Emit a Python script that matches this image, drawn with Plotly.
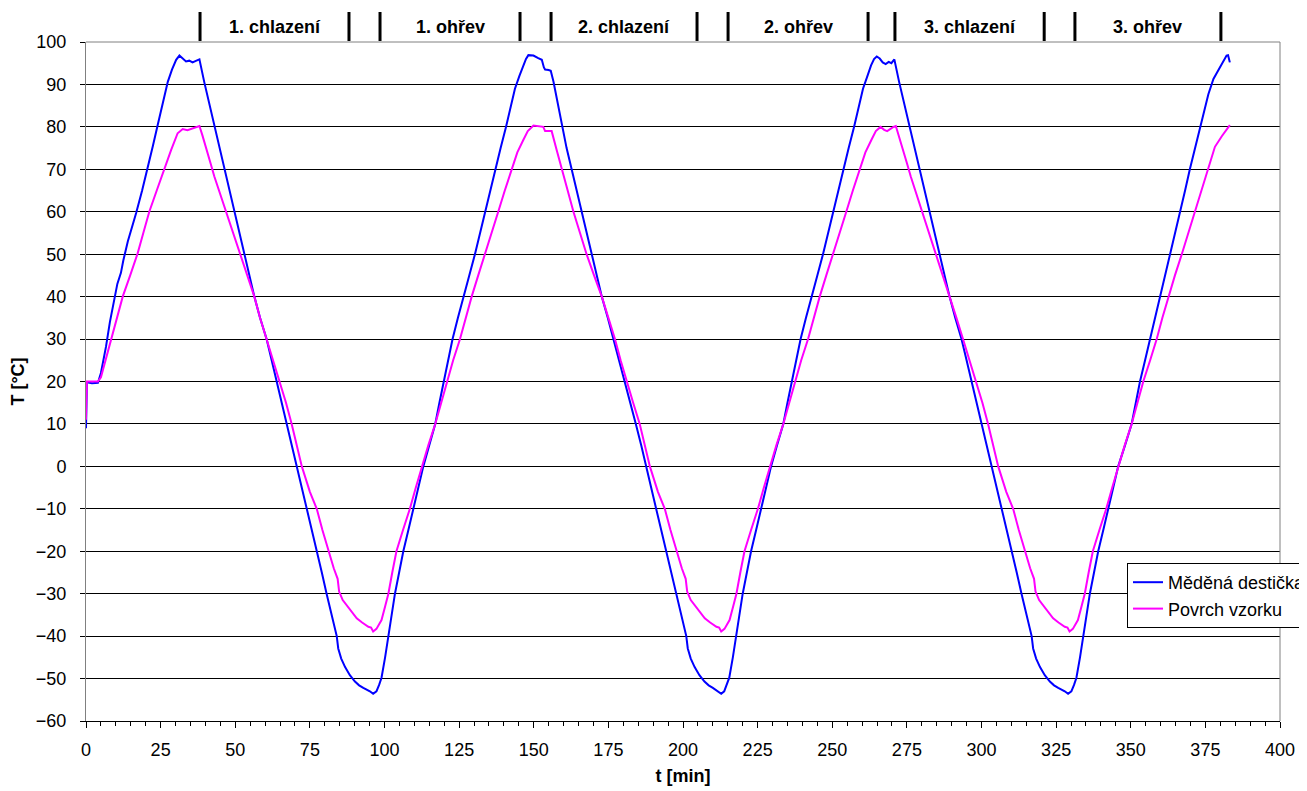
import plotly.graph_objects as go

# ---- data ----
blue_t = [0, 0.3, 2, 4, 5, 6.7, 8, 9.5, 10.5, 11.7, 12.5, 14, 15.5, 16.8, 18.8, 20.7, 22.4, 24, 25.7, 27.4,
          28.8, 30.2, 31.3, 32.4, 33.5, 34.6, 35.7, 37, 38, 39.6, 41.3, 43, 44.6, 46.3, 48, 49.7, 51.4, 53,
          54.7, 56.4, 58.3, 60.5, 62.2, 63.9, 65.5, 67.2, 68.9, 70.6, 72.2, 73.9, 75.6, 77.3, 79, 80.6, 82.3,
          84, 84.5, 85.5, 86.8, 88.4, 90.1, 91.5, 92.9, 95.1, 96.2, 97.3, 98.2, 99, 100.2, 101.3, 102.4, 103.5,
          104.9, 106.3, 108, 109.6, 111.3, 113, 115, 117, 118.4, 119.9, 121.4, 122.8, 124.6, 126.4, 128.4,
          130.3, 132, 133.7, 135.3, 137, 138.9, 140.7, 142.3, 143.7, 145.2, 146.5, 147.4, 148.2, 149.9, 151.5,
          152.7, 153.4, 153.8, 155, 155.7, 156.6, 158, 159.4, 161, 162.7, 164.4, 166.1, 167.7, 169.4, 171.1,
          172.8, 174.8, 176.7, 178.6, 180.6, 182.5, 184.2, 186, 187.6, 189.3, 191, 192.7, 194.4, 196.1, 197.7,
          199.4, 201.1, 201.6, 202.6, 203.9, 205.5, 207.2, 208.6, 210, 211.8, 212.8, 213.8, 214.7, 215.5,
          216.7, 217.8, 218.9, 220, 221.4, 222.8, 224.5, 226.1, 227.8, 229.5, 231.5, 233.6, 235, 236.5, 238,
          239.4, 241.2, 243, 245, 246.9, 248.6, 250.3, 251.9, 253.6, 255.5, 257.3, 258.9, 260.3, 261.8, 263,
          264, 264.9, 265.9, 266.9, 267.9, 268.9, 269.8, 270.8, 272.4, 274.1, 275.8, 277.4, 279.1, 280.8,
          282.5, 284.2, 285.8, 287.5, 289.3, 291.2, 293.3, 295, 296.7, 298.3, 300, 301.7, 303.4, 305, 306.7,
          308.4, 310.1, 311.8, 313.4, 315.1, 316.8, 317.3, 318.3, 319.6, 321.2, 322.9, 324.3, 325.7, 327.9,
          329, 330.1, 331, 331.8, 333, 334.1, 335.2, 336.3, 337.7, 339.1, 340.8, 342.4, 344.1, 345.8, 348.1,
          350.3, 351.7, 353.1, 354.8, 356.5, 358.2, 359.8, 361.5, 363.2, 364.9, 366.5, 368.2, 369.8, 371.5,
          373.2, 374.6, 376, 377.7, 379.9, 381, 382.1, 382.6, 383.2]
blue_T = [9, 19.8, 19.6, 19.7, 22, 28.2, 34, 40, 43, 45.6, 48.5, 53, 56.5, 59.7, 65, 70.2, 75.5, 80.4, 85.5, 90.6,
          93.5, 95.8, 96.8, 96, 95.4, 95.6, 95.2, 95.6, 95.9, 90.6, 85.5, 80.4, 75.3, 70.2, 65, 60, 55, 50.2,
          45, 40, 35, 30, 25, 20, 15, 10, 5, 0, -5, -10, -15, -20, -25, -30, -35,
          -40, -42.9, -45.3, -47.3, -49.2, -50.7, -51.6, -52.2, -53, -53.6, -53, -51.5, -49.8, -45, -40, -35, -30,
          -25, -20, -15, -10, -5, 0, 5, 10, 15, 20, 25, 30, 35, 40, 45,
          50, 55, 60, 65, 70, 75, 80, 85, 89, 92, 94.5, 96, 96.9, 96.8, 96.2,
          95.8, 94, 93.5, 93.4, 93.2, 90.7, 85.5, 80, 75, 70, 65, 60, 55, 50, 45,
          40, 35, 30, 25, 20, 15, 10, 5, 0, -5, -10, -15, -20, -25, -30,
          -35, -40, -42.9, -45.3, -47.3, -49.2, -50.7, -51.6, -52.2, -53, -53.6, -53, -51.5, -49.8,
          -45, -40, -35, -30, -25, -20, -15, -10, -5, 0, 5, 10, 15, 20, 25,
          30, 35, 40, 45, 50, 55, 60, 65, 70, 75, 80, 85, 89, 92, 94.5,
          96, 96.6, 96.1, 95.2, 94.8, 95.3, 95, 95.9, 90.6, 85.5, 80.4, 75.3, 70.2, 65,
          60, 55, 50.2, 45, 40, 35, 30, 25, 20, 15, 10, 5, 0, -5, -10,
          -15, -20, -25, -30, -35, -40, -42.9, -45.3, -47.3, -49.2, -50.7, -51.6, -52.2, -53,
          -53.6, -53, -51.5, -49.8, -45, -40, -35, -30, -25, -20, -15, -10, -5, 0, 5,
          10, 15, 20, 25, 30, 35, 40, 45, 50, 55, 60, 65, 70, 75,
          80, 84, 87.7, 91.3, 94, 95.5, 96.8, 96.9, 95.2]

pink_t = [0, 0.3, 2, 4, 5, 6.5, 8.4, 10.3, 12.3, 14.8, 17.3, 19.2, 21.2, 23.7, 26.2, 28.5, 30.7, 32.4, 34, 35.5,
          36.6, 38, 39, 40.2, 41.7, 43, 45, 46.9, 49.2, 51.4, 53.9, 56.4, 58.3, 60.5, 62.7, 65, 67, 68.9, 70.6,
          72.3, 75, 77.3, 79.2, 81.2, 83, 84.3, 84.8, 86, 87.3, 89, 90.7, 92.5, 94.6, 95.5, 96.2, 97.3, 98.2,
          99, 100.2, 101.3, 102.6, 104, 106.2, 108.5, 110.5, 112.5, 114.7, 117, 119, 120.8, 123, 125.3, 127.2,
          129.2, 131.4, 133.7, 135.9, 138.1, 140.3, 142.6, 144.5, 146.5, 148, 149.9, 151.5, 153.2, 153.8, 156,
          157.7, 159.4, 161.3, 163.3, 165.5, 167.7, 170.2, 172.8, 175, 177.2, 179.1, 181.1, 183.3, 185.5,
          187.2, 188.9, 191.6, 193.9, 195.8, 197.8, 199.6, 200.9, 201.4, 202.6, 203.9, 205.6, 207.3, 209.1,
          211.2, 212.1, 212.8, 213.9, 214.8, 215.6, 216.8, 217.9, 219.2, 220.6, 222.8, 225.1, 227.1, 229.1,
          231.3, 233.6, 235.6, 237.4, 239.6, 241.9, 243.8, 245.8, 248, 250.3, 252.5, 254.7, 256.9, 259.2,
          261.1, 263.1, 264.6, 266.2, 267.4, 268.4, 269.5, 270.5, 271.3, 272.3, 273.5, 275, 276.3, 278.3,
          280.2, 282.5, 284.7, 287.2, 289.4, 291.6, 293.8, 296, 298.3, 300.3, 302.2, 303.9, 305.6, 308.3,
          310.6, 312.5, 314.5, 316.3, 317.6, 318.1, 319.3, 320.6, 322.3, 324, 325.8, 327.9, 328.8, 329.5,
          330.6, 331.5, 332.3, 333.5, 334.6, 335.9, 337.3, 339.5, 341.8, 343.8, 345.8, 348, 350.3, 352.3,
          354.2, 356.5, 358.7, 360.6, 362.6, 364.8, 367.1, 369.3, 371.5, 373.8, 376, 378.2, 380.5, 383.2]
pink_T = [11, 20, 20, 20, 21, 25, 29.8, 35, 40, 45, 50.2, 55, 60, 65, 70.2, 74.5, 78.5, 79.5, 79.2, 79.6,
          80, 80.2, 78, 75.3, 71.5, 68.3, 64, 60, 55, 50.2, 45, 40, 35, 30, 25, 20, 15, 10, 5,
          0, -6, -10, -15, -20, -24, -26.5, -29.5, -31.5, -32.7, -34.5, -35.8, -36.8, -37.8, -38, -38.9, -38.3, -37.3,
          -36.2, -33, -30, -25, -20, -15, -10, -5, 0, 5, 10, 15, 20, 25, 30, 35,
          40, 45, 50, 55, 60, 65, 70, 74, 76.9, 79, 80.3, 80.2, 80, 79, 79,
          74.5, 70, 65, 60, 55, 50, 45, 40, 35, 30, 25, 20, 15, 10,
          5, 0, -6, -10, -15, -20, -24, -26.5, -29.5, -31.5, -32.7, -34.5, -35.8, -36.8,
          -37.8, -38, -38.9, -38.3, -37.3, -36.2, -33, -30, -25, -20, -15, -10, -5, 0,
          5, 10, 15, 20, 25, 30, 35, 40, 45, 50, 55, 60, 65, 70,
          74, 76.9, 79, 80, 79.3, 79, 79.6, 80, 80.2, 78, 75.3, 71.5, 68.3, 64,
          60, 55, 50.2, 45, 40, 35, 30, 25, 20, 15, 10, 5, 0, -6,
          -10, -15, -20, -24, -26.5, -29.5, -31.5, -32.7, -34.5, -35.8, -36.8, -37.8, -38, -38.9,
          -38.3, -37.3, -36.2, -33, -30, -25, -20, -15, -10, -5, 0, 5, 10, 15,
          20, 25, 30, 35, 40, 45, 50, 55, 60, 65, 70, 75.3, 77.8, 80.4]

# test phases: label, start [min], end [min]
phase_labels = ["1. chlazení", "1. ohřev", "2. chlazení", "2. ohřev", "3. chlazení", "3. ohřev"]
phase_start = [38.2, 98.5, 155.8, 215.1, 271.0, 331.3]
phase_end = [88.1, 145.4, 204.7, 262.0, 321.0, 380.2]

series_names = ["Měděná destička", "Povrch vzorku"]

FONT = "Liberation Sans, Arial, sans-serif"
FS = 18

# the page body adds an 8px offset, so the figure is 8px smaller than the window
W, H = 1299, 783
ML, MR, MT, MB = 78, 27, 34, 70
PW, PH = W - ML - MR, H - MT - MB   # plot area size in px


def py(px_from_plot_top):
    """paper y for a pixel offset measured from the plot-area top (negative = above)."""
    return 1 - px_from_plot_top / PH


fig = go.Figure()
fig.add_trace(go.Scatter(x=blue_t, y=blue_T, mode="lines", name=series_names[0],
                         line=dict(color="#0000FF", width=2)))
fig.add_trace(go.Scatter(x=pink_t, y=pink_T, mode="lines", name=series_names[1],
                         line=dict(color="#FF00FF", width=2)))

shapes = []
annotations = []
for lab, s, e in zip(phase_labels, phase_start, phase_end):
    for xv in (s, e):
        shapes.append(dict(type="line", xref="x", yref="paper", x0=xv, x1=xv, y0=py(-1), y1=py(-30),
                           line=dict(color="black", width=3)))
    annotations.append(dict(text="<b>" + lab + "</b>", x=(s + e) / 2, xref="x", y=py(-15),
                            yref="paper", showarrow=False, xanchor="center", yanchor="middle",
                            font=dict(family=FONT, size=FS, color="black")))

# grey top and right border of the plot area
shapes.append(dict(type="line", xref="paper", yref="paper", x0=0, x1=1, y0=1, y1=1,
                   line=dict(color="#808080", width=1), layer="above"))
shapes.append(dict(type="line", xref="paper", yref="paper", x0=1, x1=1, y0=0, y1=1,
                   line=dict(color="#808080", width=1), layer="above"))

fig.update_layout(
    width=W, height=H,
    margin=dict(l=ML, r=MR, t=MT, b=MB, autoexpand=False),
    paper_bgcolor="white", plot_bgcolor="white",
    font=dict(family=FONT, size=FS, color="black"),
    showlegend=True,
    legend=dict(x=(1127 - 86) / PW, y=py(563 - 42), xanchor="left", yanchor="top",
                bgcolor="white", bordercolor="black", borderwidth=1,
                font=dict(family=FONT, size=FS, color="black"), tracegroupgap=0),
    shapes=shapes, annotations=annotations,
    xaxis=dict(range=[0, 400], tick0=0, dtick=25, ticks="outside", ticklen=6, tickcolor="black",
               showline=True, linecolor="black", linewidth=1, showgrid=False, zeroline=False,
               minor=dict(dtick=5, ticks="outside", ticklen=4, tickcolor="black", showgrid=False),
               tickfont=dict(family=FONT, size=FS), ticklabelstandoff=6,
               title=dict(text="<b>t [min]</b>", font=dict(family=FONT, size=FS), standoff=10)),
    yaxis=dict(range=[-60, 100], tick0=-60, dtick=10, ticks="outside", ticklen=5, tickcolor="black",
               showline=True, linecolor="#808080", linewidth=1, showgrid=True, gridcolor="black",
               gridwidth=1, zeroline=True, zerolinecolor="black", zerolinewidth=1,
               tickfont=dict(family=FONT, size=FS), ticklabelstandoff=10,
               title=dict(text="<b>T [°C]</b>", font=dict(family=FONT, size=FS), standoff=10)),
)

fig.write_html("out.html")
